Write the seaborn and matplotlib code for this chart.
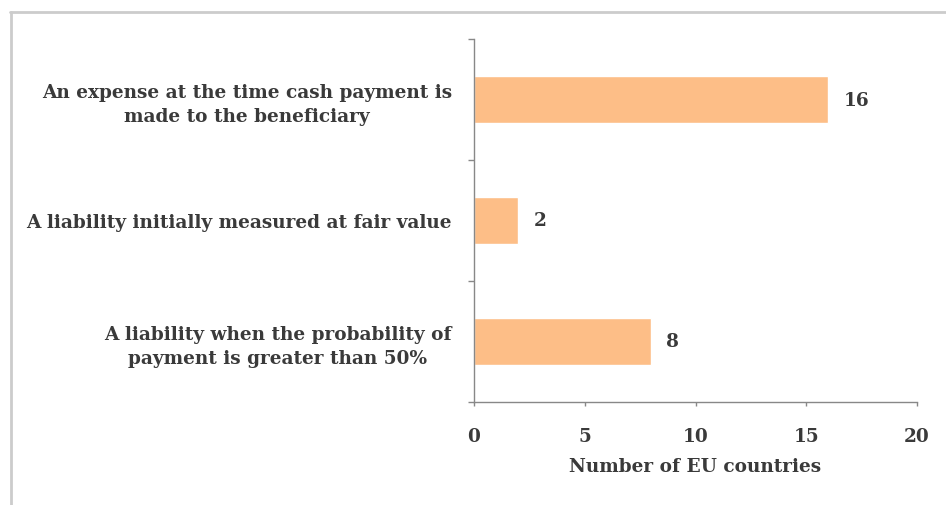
import matplotlib
matplotlib.use("Agg")
import matplotlib.pyplot as plt
import seaborn as sns
import pandas as pd
from matplotlib.lines import Line2D

categories = [
    "An expense at the time cash payment is\nmade to the beneficiary",
    "A liability initially measured at fair value",
    "A liability when the probability of\npayment is greater than 50%",
]
values = [16, 2, 8]
xticks = [0, 5, 10, 15, 20]
xlabel = "Number of EU countries"

sns.set_theme(style="white")
plt.rcParams["font.family"] = ["DejaVu Serif"]
text_color = "#3a3a3a"
fs = 13.3

df = pd.DataFrame({"category": categories, "value": values})

fig = plt.figure(figsize=(9.46, 5.06), dpi=100)
ax = fig.add_axes([474/946, 1-403/506, (917-474)/946, (403-40)/506])

sns.barplot(data=df, x="value", y="category", orient="h", color="#FDBE87",
            saturation=1, width=0.39, ax=ax)

ax.set_xlim(0, 20)
ax.set_ylim(2.5, -0.5)
ax.set_xticks(xticks)
ax.set_xticklabels([str(t) for t in xticks], fontsize=fs, color=text_color,
                   fontweight="bold")
ax.set_yticks(range(len(categories)))
ax.set_yticklabels(categories, fontsize=fs, color=text_color, ha="right",
                   multialignment="center", linespacing=1.4, fontweight="bold")
ax.set_yticks([-0.5, 0.5, 1.5, 2.5], minor=True)
ax.tick_params(axis="y", which="major", length=0, pad=16)
ax.tick_params(axis="y", which="minor", length=4, width=1, color="#888888",
               direction="out", left=True)
ax.tick_params(axis="x", which="major", length=3, width=1, color="#888888",
               direction="out", bottom=True, pad=15)
ax.set_xlabel(xlabel, fontsize=fs, color=text_color, labelpad=9,
              fontweight="bold")
ax.set_ylabel("")

for side in ["top", "right"]:
    ax.spines[side].set_visible(False)
for side in ["left", "bottom"]:
    ax.spines[side].set_color("#888888")
    ax.spines[side].set_linewidth(1)

for c in ax.containers:
    ax.bar_label(c, padding=11, fontsize=fs, color=text_color, fontweight="bold")

fig.add_artist(Line2D([10/946, 1.0], [1-13/506, 1-13/506], color="#cccccc", lw=2,
                      transform=fig.transFigure))
fig.add_artist(Line2D([11/946, 11/946], [0, 1-13/506], color="#cccccc", lw=2,
                      transform=fig.transFigure))

fig.savefig("out.png", dpi=100)
